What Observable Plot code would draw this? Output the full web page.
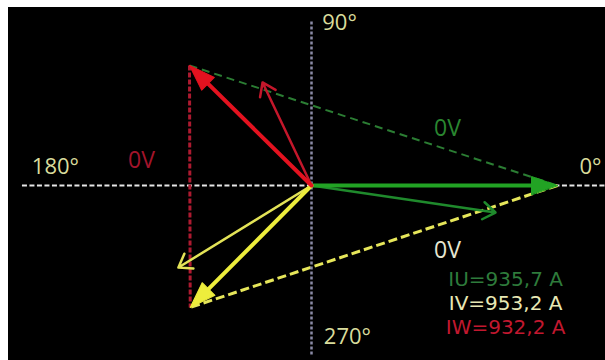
<!DOCTYPE html>
<html><head><meta charset="utf-8">
<script src="https://cdn.jsdelivr.net/npm/d3@7"></script>
<script src="https://cdn.jsdelivr.net/npm/@observablehq/plot@0.6"></script>
<style>
html,body{margin:0;padding:0;background:#fff;}
#chart{position:absolute;left:8px;top:7px;width:597px;height:353px;background:#000;overflow:hidden;}
#chart svg{background:#000;}
</style></head><body><div id="chart"></div>
<script>
// ---- data ----
const phases = ["U", "V", "W"];
// voltage phasor tips (real, imaginary), unit magnitude
const voltX = [1.0, -0.493, -0.496];
const voltY = [0.0, -0.871, 0.857];
// current phasor tips
const currX = [0.748, -0.541, -0.199];
const currY = [-0.193, -0.586, 0.736];
// dashed triangle sides
const sideFrom = ["W", "U", "W"];
const sideTo = ["U", "V", "V"];
// texts
const axisLabels = ["0°", "90°", "180°", "270°"];
const voltLabels = ["0V", "0V", "0V"];          // U, V, W
const currLabels = ["IU=935,7 A", "IV=953,2 A", "IW=932,2 A"];

// ---- styles / layout ----
const voltColors = ["#22a324", "#eded3c", "#e3121f"];
const currColors = ["#1f8a2c", "#e3e357", "#c4172b"];
const sideColors = ["#2b7d33", "#e6e65a", "#ad1a30"];
const sideWidths = [2, 3, 3];
const sideDash = ["8,5", "9,4", "5,2"];
const axisLabelX = [1.134, 0.114, -1.041, 0.146];
const axisLabelY = [0.129, 1.16, 0.129, -1.079];
const voltLabelX = [0.553, 0.553, -0.691];
const voltLabelY = [0.407, -0.464, 0.179];
const voltLabelColors = ["#2a8630", "#e6e6d2", "#a3142b"];
const currLabelX = [0.789, 0.789, 0.789];
const currLabelY = [-0.672, -0.843, -1.014];
const currLabelColors = ["#2e7b3b", "#e8e8b4", "#c2182f"];

const W = 597, H = 353;
const xDomain = [-1.2317, 1.1951], yDomain = [-1.25, 1.2714];
const sx = d3.scaleLinear().domain(xDomain).range([0, W]);
const sy = d3.scaleLinear().domain(yDomain).range([H, 0]);

const volts = phases.map((p, i) => {
  const dx = sx(voltX[i]) - sx(0), dy = sy(voltY[i]) - sy(0);
  return {phase: p, x: voltX[i], y: voltY[i], color: voltColors[i],
          rot: Math.atan2(dx, -dy) * 180 / Math.PI};
});
const tip = Object.fromEntries(volts.map(d => [d.phase, d]));
const currs = phases.map((p, i) => ({phase: p, x: currX[i], y: currY[i], color: currColors[i]}));
const sides = sideFrom.map((f, i) => ({x1: tip[f].x, y1: tip[f].y, x2: tip[sideTo[i]].x, y2: tip[sideTo[i]].y,
  color: sideColors[i], w: sideWidths[i], dash: sideDash[i]}));
const axisTexts = axisLabels.map((t, i) => ({t, x: axisLabelX[i], y: axisLabelY[i]}));
const voltTexts = voltLabels.map((t, i) => ({t, x: voltLabelX[i], y: voltLabelY[i], c: voltLabelColors[i]}));
const currTexts = currLabels.map((t, i) => ({t, x: currLabelX[i], y: currLabelY[i], c: currLabelColors[i]}));

const headShape = {draw(ctx, l, r) { ctx.moveTo(0, -l); ctx.lineTo(-r, 0); ctx.lineTo(r, 0); ctx.closePath(); }};
const font = {fontFamily: "Open Sans", fontSize: 22};
const bigFont = {fontFamily: "Open Sans", fontSize: 23};
const readFont = {fontFamily: "DejaVu Sans", fontSize: 20};

const plot = Plot.plot({
  width: W, height: H,
  margin: 0,
  x: {domain: xDomain, range: [0, W], axis: null},
  y: {domain: yDomain, range: [H, 0], axis: null},
  color: {type: "identity"},
  style: {background: "#000"},
  marks: [
    Plot.ruleY([0], {x1: -1.175, x2: xDomain[1], stroke: "#e6e6e6", strokeWidth: 2, strokeDasharray: "5,2.5"}),
    ...sides.map(s => Plot.link([s], {x1: "x1", y1: "y1", x2: "x2", y2: "y2", stroke: s.color,
      strokeWidth: s.w, strokeDasharray: s.dash})),
    Plot.ruleX([0], {y1: -1.21, y2: 1.18, stroke: "#8a8aa6", strokeWidth: 2.5, strokeDasharray: "3,2"}),
    Plot.arrow(currs, {x1: 0, y1: 0, x2: "x", y2: "y", stroke: "color", strokeWidth: 2.5, headLength: 9, headAngle: 70}),
    Plot.arrow(volts, {x1: 0, y1: 0, x2: "x", y2: "y", stroke: "color", strokeWidth: 4, headLength: 0, insetEnd: 12}),
    Plot.vector(volts, {x: "x", y: "y", rotate: "rot", length: 26, anchor: "end", shape: headShape, r: 9,
      fill: "color", stroke: "color", strokeWidth: 1}),
    Plot.text(axisTexts, {x: "x", y: "y", text: "t", fill: "#d9dc9c", ...font}),
    Plot.text(voltTexts, {x: "x", y: "y", text: "t", fill: "c", ...bigFont}),
    Plot.text(currTexts, {x: "x", y: "y", text: "t", fill: "c", ...readFont})
  ]
});
document.getElementById("chart").appendChild(plot);
</script></body></html>
